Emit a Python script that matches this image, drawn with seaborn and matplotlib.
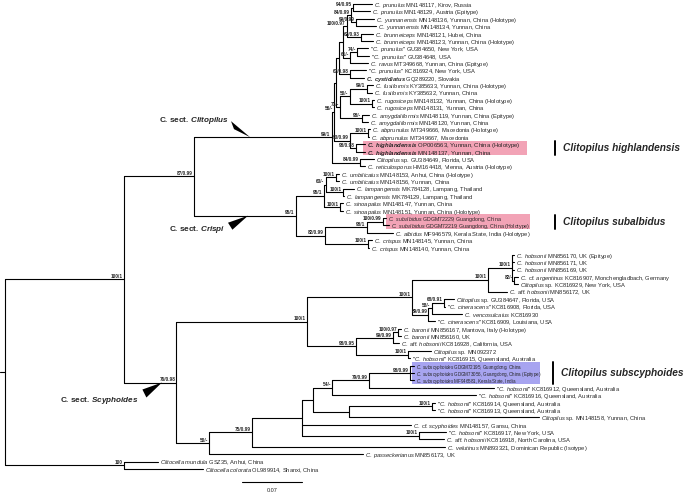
import re
import matplotlib
matplotlib.use("Agg")
import matplotlib.pyplot as plt
from matplotlib.patches import Rectangle, Polygon
import seaborn as sns
import pandas as pd

# ---- tree data (branch lengths in substitutions/site) ----
tip_labels = [
    '*C. prunulus* MN148117, Kirov, Russia',
    '*C. prunulus* MN148129, Austria (Epitype)',
    '*C. yunnanensis* MN148136, Yunnan, China (Holotype)',
    '*C. yunnanensis* MN148134, Yunnan, China',
    '*C. brunneiceps* MN148121, Hubei, China',
    '*C. brunneiceps* MN148123, Yunnan, China (Holotype)',
    '"*C. prunulus*" GU384650, New York, USA',
    '"*C. prunulus*" GU384648, USA',
    '*C. ravus* MT349668, Yunnan, China (Epitype)',
    '"*C. prunulus*" KC816924, New York, USA',
    '**C. cystidiatus** GQ289220, Slovakia',
    '*C. fusiformis* KY385633, Yunnan, China (Holotype)',
    '*C. fusiformis* KY385632, Yunnan, China',
    '*C. rugosiceps* MN148132, Yunnan, China (Holotype)',
    '*C. rugosiceps* MN148131, Yunnan, China',
    '*C. amygdaliformis* MN148119, Yunnan, China (Epitype)',
    '*C. amygdaliformis* MN148120, Yunnan, China',
    '*C. abprunulus* MT349666, Macedonia (Holotype)',
    '*C. abprunulus* MT349667, Macedonia',
    '**C. highlandensis** OP006563, Yunnan, China (Holotype)',
    '**C. highlandensis** MN148137, Yunnan, China',
    '*Clitopilus* sp. GU384649, Florida, USA',
    '*C. reticulosporus* HM164418, Vienna, Austria (Holotype)',
    '*C. umbilicatus* MN148153, Anhui, China (Holotype)',
    '*C. umbilicatus* MN148156, Yunnan, China',
    '*C. lampangensis* MK784128, Lampang, Thailand',
    '*C. lampangensis* MK784129, Lampang, Thailand',
    '*C. sinoapalus* MN148147, Yunnan, China',
    '*C. sinoapalus* MN148151, Yunnan, China (Holotype)',
    '*C. subalbidus* GDGM72229, Guangdong, China',
    '*C. subalbidus* GDGM72219, Guangdong, China (Holotype)',
    '*C. albidus* MF946579, Kerala State, India (Holotype)',
    '*C. crispus* MN148145, Yunnan, China',
    '*C. crispus* MN148140, Yunnan, China',
    '*C. hobsonii* MN856170, UK (Epitype)',
    '*C. hobsonii* MN856171, UK',
    '*C. hobsonii* MN856169, UK',
    '*C.* cf. *argentinus* KC816907, Monchengladbach, Germany',
    '*Clitopilus* sp. KC816929, New York, USA',
    '*C.* aff. *hobsonii* MN856172, UK',
    '*Clitopilus* sp. GU384647, Florida, USA',
    '"*C. cinerascens*" KC816908, Florida, USA',
    '*C. vencosulcatus* KC816930',
    '"*C. cinerascens*" KC816909, Louisiana, USA',
    '*C. baronii* MN856167, Mantova, Italy (Holotype)',
    '*C. baronii* MN856160, UK',
    '*C.* aff. *hobsonii* KC816928, California, USA',
    '*Clitopilus* sp. MN092372',
    '"*C. hobsonii*" KC816915, Queensland, Australia',
    '*C. subscyphoides* GDGM72195, Guangdong, China',
    '*C. subscyphoides* GDGM73056, Guangdong, China (Epitype)',
    '*C. subscyphoides* MF946581, Kerala State, India',
    '"*C. hobsonii*" KC816912, Queensland, Australia',
    '"*C. hobsonii*" KC816916, Queensland, Australia',
    '"*C. hobsonii*" KC816914, Queensland, Australia',
    '"*C. hobsonii*" KC816913, Queensland, Australia',
    '*Clitopilus* sp. MN148158, Yunnan, China',
    '*C.* cf. *scyphoides* MN148157, Gansu, China',
    '"*C. hobsonii*" KC816917, New York, USA',
    '*C.* aff. *hobsonii* KC816918, North Carolina, USA',
    '*C. velutinus* MN893321, Dominican Republic (Isotype)',
    '*C. passeckerianus* MN856173, UK',
    '*Clitocella mundula* GSZ35, Anhui, China',
    '*Clitocella colorata* OL989914, Shanxi, China',
]
tip_parent = [
    'PR1', 'PR1', 'YU', 'YU', 'BR', 'BR', 'PR2', 'PR2', 'X2', 'X4', 'X4',
    'FU', 'FU', 'RU', 'RU', 'AM', 'AM', 'AB', 'AB', 'HI', 'HI', 'D', 'D',
    'UM', 'UM', 'LA', 'LA', 'SI', 'SI', 'SA', 'SA', 'SB', 'CS', 'CS',
    'H1', 'H1', 'H1', 'AR', 'AR', 'H', 'N', 'N', 'M', 'K',
    'B1', 'B1', 'B', 'Q2', 'Q2', 'F98', 'F98', 'F98', 'F79', 'F54',
    'T1', 'T1', 'T', 'P', 'R', 'R', 'V', 'S2', 'OUT', 'OUT',
]
tip_len = [
    0.022, 0.020, 0.021, 0.023, 0.014, 0.014, 0.013, 0.014, 0.020, 0.018, 0.016,
    0.007, 0.006, 0.002, 0.002, 0.008, 0.007, 0.002, 0.001, 0.011, 0.011, 0.016, 0.006,
    0.004, 0.004, 0.013, 0.002, 0.003, 0.003, 0.004, 0.007, 0.031, 0.005, 0.002,
    0.003, 0.003, 0.003, 0.004, 0.004, 0.023, 0.012, 0.001, 0.035, 0.008,
    0.003, 0.003, 0.007, 0.027, 0.002, 0.004, 0.004, 0.004, 0.145, 0.167,
    0.004, 0.004, 0.222, 0.128, 0.031, 0.029, 0.225, 0.180, 0.039, 0.092,
]

node_names = ['ROOT', 'ING', 'OUT', 'A', 'S', 'C', 'CR', 'CR1', 'U63', 'UM', 'LA', 'SI',
              'CR2', 'SB', 'SA', 'CS', 'D', 'CT', 'X8', 'X7', 'X3', 'X1', 'PR1B', 'PR1',
              'YU', 'BR', 'X2', 'PR2', 'X4', 'X6', 'X5', 'FU', 'RU', 'AM', 'G', 'AB', 'HI',
              'S1', 'S1A', 'H', 'H1', 'AR', 'K', 'M', 'N', 'S1B', 'B', 'B1', 'Q2',
              'S2', 'V', 'P', 'Q', 'F54', 'F79', 'F98', 'T', 'T1', 'R']
node_parent = [None, 'ROOT', 'ROOT', 'ING', 'ING', 'A', 'A', 'CR', 'CR1', 'U63', 'U63', 'CR1',
               'CR', 'CR2', 'SB', 'CR2', 'C', 'C', 'CT', 'X8', 'X7', 'X3', 'X1', 'PR1B',
               'PR1B', 'X1', 'X3', 'X2', 'X7', 'X8', 'X6', 'X5', 'X5', 'X6', 'CT', 'G', 'G',
               'S', 'S1', 'S1A', 'H', 'H1', 'S1A', 'K', 'M', 'S1', 'S1B', 'B', 'S1B',
               'S', 'S2', 'V', 'P', 'Q', 'F54', 'F79', 'Q', 'T', 'P']
node_len = [0.0, 0.139, 0.139, 0.081, 0.061, 0.161, 0.119, 0.033, 0.002, 0.012, 0.020, 0.019,
            0.034, 0.049, 0.019, 0.050, 0.033, 0.003, 0.002, 0.004, 0.004, 0.005, 0.005, 0.002,
            0.006, 0.016, 0.009, 0.008, 0.013, 0.005, 0.011, 0.020, 0.026, 0.026, 0.019, 0.021, 0.006,
            0.152, 0.123, 0.088, 0.028, 0.003, 0.019, 0.004, 0.014, 0.058, 0.043, 0.006, 0.060,
            0.038, 0.050, 0.058, 0.013, 0.023, 0.043, 0.048, 0.042, 0.097, 0.137]
node_support = ['', '100/1', '100', '87/0.99', '76/0.98', '99/1', '95/1', '95/1', '63/-', '100/1',
                '100/1', '100/1', '82/0.99', '98/1', '100/0.99', '100/1', '84/0.99', '56/-', '',
                '', '', '100/0.97', '84/0.99', '94/0.95', '99/0.99', '62/0.93', '61/-', '74/-',
                '67/0.98', '71/-', '50/-', '99/1', '100/1', '98/-', '93/0.99', '100/1', '98/0.98',
                '100/1', '100/1', '100/1', '100/1', '82/-', '89/0.99', '58/-', '68/0.91',
                '98/0.95', '99/0.99', '100/0.97', '100/1', '50/-', '75/0.99', '', '', '54/-',
                '79/0.99', '98/0.99', '', '100/1', '100/1']

scale_value = 0.07
sections = ['Clitopilus', 'Crispi', 'Scyphoides']
section_nodes = ['C', 'CR', 'S']
highlight_species = ['highlandensis', 'subalbidus', 'subscyphoides']
highlight_tips = [[19, 20], [29, 30], [49, 50, 51]]

# ---- layout helpers (pixel based) ----
PX = 0.07 / 60.0     # tree units per pixel
ROW = 7.38           # pixels per tip row


def hx(px):
    return (px - 5) * PX


def vy(py):
    return (py - 4) / ROW


ids = ['t%d' % i for i in range(len(tip_labels))] + node_names
par = dict(zip(ids, tip_parent + node_parent))
blen = dict(zip(ids, tip_len + node_len))
children = {}
for c, p in par.items():
    if p is not None:
        children.setdefault(p, []).append(c)

depth = {}


def get_depth(n):
    if n not in depth:
        depth[n] = 0.0 if par[n] is None else get_depth(par[n]) + blen[n]
    return depth[n]


ypos = {'t%d' % i: float(i) for i in range(len(tip_labels))}


def get_y(n):
    if n not in ypos:
        ys = [get_y(c) for c in children[n]]
        ypos[n] = (min(ys) + max(ys)) / 2.0
    return ypos[n]


rows = []
k = 0
for n in ids:
    x, y = get_depth(n), get_y(n)
    if par[n] is not None:
        rows += [(k, get_depth(par[n]), y), (k, x, y)]
        k += 1
    if n in children:
        ys = [get_y(c) for c in children[n]]
        rows += [(k, x, min(ys)), (k, x, max(ys))]
        k += 1
rows += [(k, hx(0), get_y('ROOT')), (k, 0.0, get_y('ROOT'))]
seg = pd.DataFrame(rows, columns=['seg', 'x', 'y'])

# ---- plotting ----
sns.set_theme(style="white")
plt.rcParams['font.family'] = ['Liberation Sans', 'DejaVu Sans']
plt.rcParams['mathtext.fontset'] = 'custom'
plt.rcParams['mathtext.it'] = 'Liberation Sans:italic'
plt.rcParams['mathtext.bf'] = 'Liberation Sans:italic:bold'
plt.rcParams['mathtext.rm'] = 'Liberation Sans'

fig = plt.figure(figsize=(6.85, 4.93), dpi=100)
ax = fig.add_axes([0, 0, 1, 1])

pink, blue = '#f2a3b6', '#a7a4f0'
for sp, tips, col, x0, x1 in zip(highlight_species, highlight_tips,
                                 [pink, pink, blue], [363, 386, 412], [527, 530, 540]):
    ax.add_patch(Rectangle((hx(x0), min(tips) - 0.5), hx(x1) - hx(x0),
                           len(tips), color=col, lw=0, zorder=0))

sns.lineplot(data=seg, x='x', y='y', units='seg', estimator=None, sort=False,
             color='black', lw=0.8, ax=ax, legend=False)


def to_math(s):
    s = re.sub(r'\*\*(.+?)\*\*', lambda m: r'$\mathbf{' + m.group(1).replace(' ', r'\ ') + '}$', s)
    s = re.sub(r'\*(.+?)\*', lambda m: r'$\mathit{' + m.group(1).replace(' ', r'\ ') + '}$', s)
    return s


# labels inside the coloured boxes are sized to fit the boxes
label_size = {i: 4.3 for i in highlight_tips[0]}
label_size.update({i: 3.75 for i in highlight_tips[1]})
label_size.update({i: 3.25 for i in highlight_tips[2]})
for i, lab in enumerate(tip_labels):
    n = 't%d' % i
    ax.text(get_depth(n) + 2 * PX, get_y(n), to_math(lab), fontsize=label_size.get(i, 4.15),
            ha='left', va='center_baseline')

for n, sup in zip(node_names, node_support):
    if sup:
        ax.text(get_depth(n) - 1.2 * PX, get_y(n) - 0.4 / ROW, sup, fontsize=3.4,
                fontweight='bold', ha='right', va='bottom')

# section markers
tip_px = {'C': 250, 'CR': 248, 'S': 162}
tri_off = {'C': [(-19, -16), (-16, -8)], 'CR': [(-20, 7), (-15.6, 14)],
           'S': [(-19.6, 7), (-15.6, 15)]}
txt_off = {'C': (-21, -16.6), 'CR': (-23, 13.3), 'S': (-24, 18)}
for name, n in zip(sections, section_nodes):
    tx, ty = hx(tip_px[n]), get_y(n)
    pts = [(tx, ty)] + [(tx + dx * PX, ty + dy / ROW) for dx, dy in tri_off[n]]
    ax.add_patch(Polygon(pts, closed=True, color='black', lw=0))
    dx, dy = txt_off[n]
    ax.text(tx + dx * PX, ty + dy / ROW, r'C. sect. $\mathbf{%s}$' % name,
            fontsize=5.9, fontweight='bold', ha='right', va='center')

# species bars
for sp, tips, bx in zip(highlight_species, highlight_tips, [555, 555, 553]):
    ax.plot([hx(bx), hx(bx)], [min(tips) - 0.45, max(tips) + 0.45], color='black', lw=1.4)
    ax.text(hx(bx + 8), (min(tips) + max(tips)) / 2, 'Clitopilus ' + sp, fontsize=7.3,
            fontweight='bold', fontstyle='italic', ha='left', va='center')

# scale bar
ax.plot([hx(242), hx(242) + scale_value], [vy(482), vy(482)], color='black', lw=0.8)
ax.text(hx(242) + scale_value / 2, vy(490), '%.2f' % scale_value, fontsize=4,
        ha='center', va='center')

ax.set_xlim(hx(0), hx(685))
ax.set_ylim(vy(493), vy(0))
ax.axis('off')
fig.savefig('out.png', dpi=100)
